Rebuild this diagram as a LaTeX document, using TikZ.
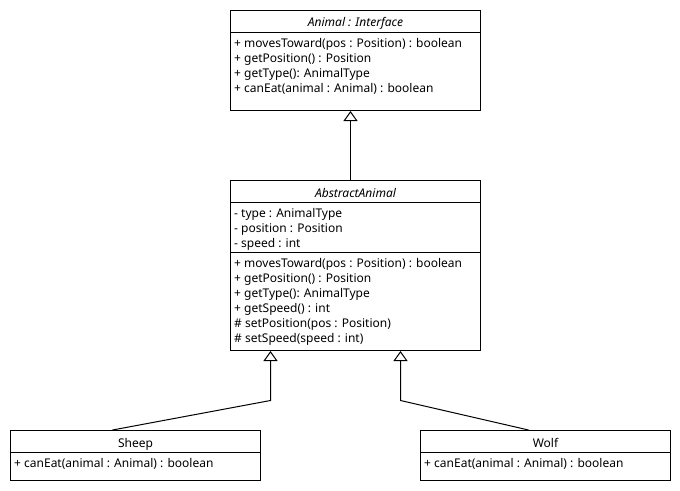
\documentclass[tikz,border=0pt]{standalone}
\usepackage{fontspec}
\setmainfont{Noto Sans}
\usetikzlibrary{arrows.meta}
\tikzset{
  box/.style={draw, line width=1pt, rectangle, inner sep=0pt, minimum width=250pt},
  txt/.style={anchor=base west, inner sep=0pt, font=\fontsize{12}{14}\selectfont},
  ttl/.style={anchor=base, inner sep=0pt, font=\fontsize{12}{14}\selectfont},
  sep/.style={line width=1pt},
  inherit/.style={line width=1pt, -{Triangle[open, width=14pt, length=10pt]}}
}
\begin{document}
\begin{tikzpicture}[x=1pt,y=-1pt]
\useasboundingbox (0,0) rectangle (680,490);
% Animal interface
\node[box, minimum height=100pt] (animal) at (355.5,60.5) {};
\draw[sep] (animal.west |- 0,32.5) -- (animal.east |- 0,32.5);
\node[ttl] (animalT) at (355.5,26) {\itshape Animal : Interface};
\node[txt] (a1) at (234,47) {+ movesToward(pos : Position) : boolean};
\node[txt] (a2) at (234,62) {+ getPosition() : Position};
\node[txt] (a3) at (234,77) {+ getType(): AnimalType};
\node[txt] (a4) at (234,92) {+ canEat(animal : Animal) : boolean};
% AbstractAnimal
\node[box, minimum height=170pt] (abstract) at (355.5,265.5) {};
\draw[sep] (abstract.west |- 0,202.5) -- (abstract.east |- 0,202.5);
\draw[sep] (abstract.west |- 0,252.5) -- (abstract.east |- 0,252.5);
\node[ttl] (abT) at (355.5,197) {\itshape AbstractAnimal};
\node[txt] (b1) at (234,217) {- type : AnimalType};
\node[txt] (b2) at (234,232) {- position : Position};
\node[txt] (b3) at (234,247) {- speed : int};
\node[txt] (b4) at (234,267) {+ movesToward(pos : Position) : boolean};
\node[txt] (b5) at (234,282) {+ getPosition() : Position};
\node[txt] (b6) at (234,297) {+ getType(): AnimalType};
\node[txt] (b7) at (234,312) {+ getSpeed() : int};
\node[txt] (b8) at (234,327) {\# setPosition(pos : Position)};
\node[txt] (b9) at (234,342) {\# setSpeed(speed : int)};
% Sheep
\node[box, minimum height=50pt] (sheep) at (135.5,455.5) {};
\draw[sep] (sheep.west |- 0,452.5) -- (sheep.east |- 0,452.5);
\node[ttl] (sheepT) at (135.5,447.5) {Sheep};
\node[txt] (s1) at (14,467.5) {+ canEat(animal : Animal) : boolean};
% Wolf
\node[box, minimum height=50pt] (wolf) at (545.5,455.5) {};
\draw[sep] (wolf.west |- 0,452.5) -- (wolf.east |- 0,452.5);
\node[ttl] (wolfT) at (545.5,447.5) {Wolf};
\node[txt] (w1) at (424,467.5) {+ canEat(animal : Animal) : boolean};
% connectors
\coordinate (ax) at (350.5,0);
\draw[inherit] (abstract.north -| ax) -- (animal.south -| ax);
\coordinate (sx) at (112.5,0);
\coordinate (wx) at (528.5,0);
\coordinate (sk) at (270.5,400.5);
\coordinate (wk) at (400.5,400.5);
\draw[inherit] (sheep.north -| sx) -- (sk) -- (abstract.south -| sk);
\draw[inherit] (wolf.north -| wx) -- (wk) -- (abstract.south -| wk);
\end{tikzpicture}
\end{document}
